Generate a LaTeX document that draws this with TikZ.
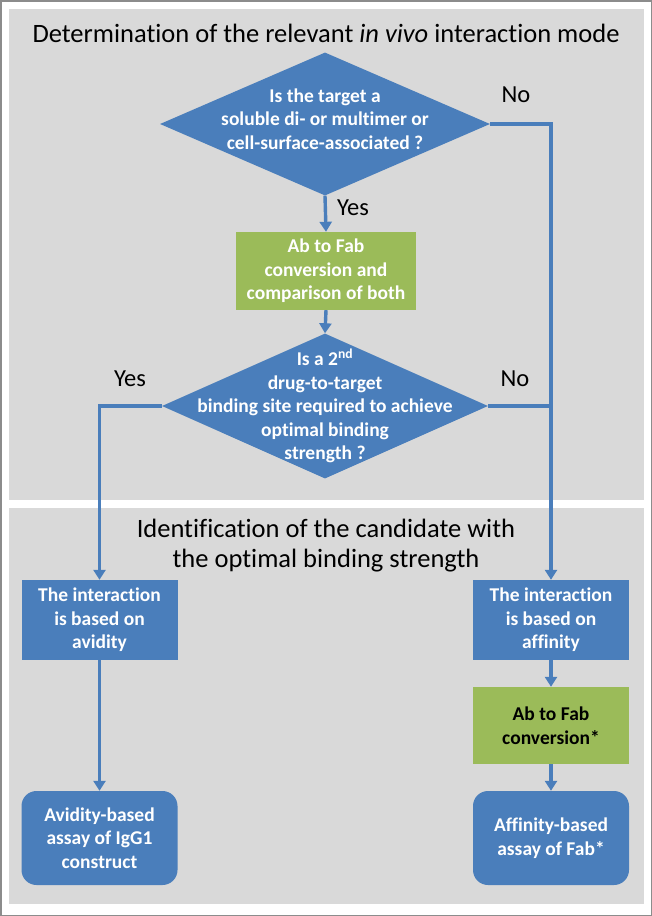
\documentclass[tikz,border=0pt]{standalone}
\usepackage{fontspec}
\setmainfont[Ligatures=NoCommon]{Carlito}
\usetikzlibrary{shapes.geometric,arrows.meta}
\definecolor{bbl}{HTML}{4A7EBB}
\definecolor{ggr}{HTML}{9BBB59}
\definecolor{pgr}{HTML}{D9D9D9}
\definecolor{edg}{HTML}{8C8C8C}
\tikzset{
  dia/.style={diamond, fill=bbl, draw=none, inner sep=0pt},
  txt/.style={text=white, font=\fontsize{19.5}{23.5}\selectfont\bfseries, align=center, inner sep=0pt},
  bbox/.style={rectangle, fill=bbl, draw=none, minimum width=156pt, minimum height=80pt, text=white, font=\fontsize{19.5}{23.5}\selectfont\bfseries, align=center, inner sep=0pt},
  gbox/.style={bbox, fill=ggr},
  rbox/.style={bbox, rounded corners=15pt, minimum height=94pt},
  arr/.style={draw=bbl, line width=3.4pt, -{Triangle[length=10pt,width=12pt]}},
  ln/.style={draw=bbl, line width=3.4pt},
  lbl/.style={font=\fontsize{24.5}{28}\selectfont, inner sep=0pt},
  ttl/.style={font=\fontsize{26.5}{30}\selectfont, align=center, inner sep=0pt}
}
\begin{document}
\begin{tikzpicture}[x=1pt,y=-1pt]
\fill[white] (0,0) rectangle (652,916);
\draw[edg, line width=1.5pt] (0.75,0.75) rectangle (651.25,915.25);
\useasboundingbox (0,0) rectangle (652,916);
\fill[pgr] (9,9) rectangle (644,500);
\fill[pgr] (9,508) rectangle (644,904);

\node[ttl] (t1) at (326,33) {Determination of the relevant \textit{in vivo} interaction mode};

\node[dia, minimum width=330pt, minimum height=143pt,
  label={[txt, yshift=5pt]center:{Is the target a\\soluble di- or multimer or\\cell-surface-associated ?}}] (d1) at (325,124) {};
\node[gbox, minimum width=180pt, minimum height=78pt] (g1) at (326,271) {Ab to Fab\\conversion and\\comparison of both};
\node[dia, minimum width=326pt, minimum height=145pt,
  label={[txt]center:{Is a 2\textsuperscript{nd}\\drug-to-target\\binding site required to achieve\\optimal binding\\strength ?}}] (d2) at (325,406) {};

\node[ttl] (t2) at (326,546) {Identification of the candidate with\\the optimal binding strength};

\node[bbox] (avi) at (99.5,620) {The interaction\\is based on\\avidity};
\node[bbox] (aff) at (551,620) {The interaction\\is based on\\affinity};
\node[gbox, text=black, minimum height=77pt] (g2) at (551,725.5) {Ab to Fab\\conversion*};
\node[rbox] (ra) at (551,838) {Affinity-based\\assay of Fab*};
\node[rbox] (rv) at (99.5,838) {Avidity-based\\assay of IgG1\\construct};

\node[lbl] (no1) at (516,95) {No};
\node[lbl] (yes1) at (353,208) {Yes};
\node[lbl] (yes2) at (130,379) {Yes};
\node[lbl] (no2) at (515,379) {No};

\draw[arr] (d1.south) -- (g1.north);
\draw[arr] (g1.south) -- (d2.north);
\draw[arr] (d1.east) -| (aff.north);
\draw[ln] (d2.east) -- (d2.east -| aff.north);
\draw[arr] (d2.west) -| (avi.north);
\draw[arr] (aff.south) -- (g2.north);
\draw[arr] (g2.south) -- (ra.north);
\draw[arr] (avi.south) -- (rv.north);
\end{tikzpicture}
\end{document}
